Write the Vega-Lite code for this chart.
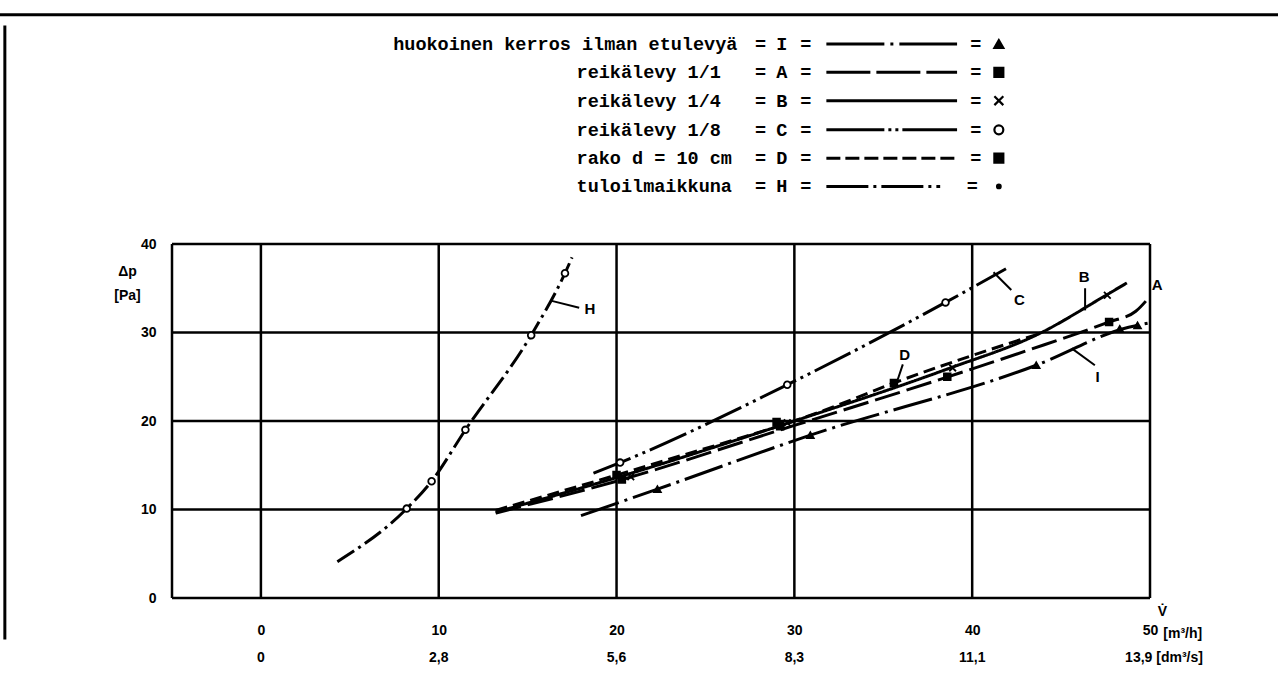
{
  "$schema": "https://vega.github.io/schema/vega-lite/v6.json",
  "width": 978,
  "height": 354,
  "autosize": {"type": "none"},
  "padding": {"left": 172, "top": 244, "right": 128, "bottom": 90},
  "background": "white",
  "config": {"view": {"stroke": null}},
  "datasets": {
    "grid": [
      {"x": -5, "x2": -5, "y": 0, "y2": 40},
      {"x": 0, "x2": 0, "y": 0, "y2": 40},
      {"x": 10, "x2": 10, "y": 0, "y2": 40},
      {"x": 20, "x2": 20, "y": 0, "y2": 40},
      {"x": 30, "x2": 30, "y": 0, "y2": 40},
      {"x": 40, "x2": 40, "y": 0, "y2": 40},
      {"x": 50, "x2": 50, "y": 0, "y2": 40},
      {"x": -5, "x2": 50, "y": 0, "y2": 0},
      {"x": -5, "x2": 50, "y": 10, "y2": 10},
      {"x": -5, "x2": 50, "y": 20, "y2": 20},
      {"x": -5, "x2": 50, "y": 30, "y2": 30},
      {"x": -5, "x2": 50, "y": 40, "y2": 40}
    ],
    "scan": [
      {"x": -14.8, "x2": 57.2, "y": 65.9, "y2": 65.9},
      {"x": -14.4, "x2": -14.4, "y": 64.7, "y2": -4.7}
    ],
    "leaders": [
      {"x": 41.2, "x2": 42.2, "y": 36.8, "y2": 34.8},
      {"x": 46.35, "x2": 46.35, "y": 35.0, "y2": 32.5},
      {"x": 36.1, "x2": 35.8, "y": 26.4, "y2": 24.6},
      {"x": 45.6, "x2": 46.9, "y": 28.2, "y2": 26.3},
      {"x": 16.3, "x2": 17.9, "y": 33.6, "y2": 32.8}
    ],
    "lines": [
      {"g": "H", "x": 4.3, "y": 4.1},
      {"g": "H", "x": 8.2, "y": 10.1},
      {"g": "H", "x": 9.6, "y": 13.2},
      {"g": "H", "x": 11.5, "y": 19.0},
      {"g": "H", "x": 15.2, "y": 29.7},
      {"g": "H", "x": 17.1, "y": 36.7},
      {"g": "H", "x": 17.5, "y": 38.5},
      {"g": "C", "x": 18.7, "y": 14.1},
      {"g": "C", "x": 20.2, "y": 15.3},
      {"g": "C", "x": 29.6, "y": 24.1},
      {"g": "C", "x": 38.5, "y": 33.4},
      {"g": "C", "x": 41.9, "y": 37.2},
      {"g": "B", "x": 13.2, "y": 9.7},
      {"g": "B", "x": 20, "y": 13.6},
      {"g": "B", "x": 30, "y": 20.0},
      {"g": "B", "x": 38.5, "y": 25.8},
      {"g": "B", "x": 43.9, "y": 30.0},
      {"g": "B", "x": 47.6, "y": 34.3},
      {"g": "B", "x": 48.7, "y": 35.6},
      {"g": "A", "x": 13.2, "y": 9.6},
      {"g": "A", "x": 20, "y": 13.2},
      {"g": "A", "x": 30, "y": 19.5},
      {"g": "A", "x": 38.5, "y": 24.9},
      {"g": "A", "x": 43, "y": 27.9},
      {"g": "A", "x": 47.7, "y": 31.2},
      {"g": "A", "x": 49.2, "y": 32.4},
      {"g": "A", "x": 50, "y": 34.1},
      {"g": "D", "x": 13.2, "y": 9.9},
      {"g": "D", "x": 22.5, "y": 15.4},
      {"g": "D", "x": 31.4, "y": 21.0},
      {"g": "D", "x": 36, "y": 24.6},
      {"g": "D", "x": 40, "y": 27.4},
      {"g": "D", "x": 44, "y": 30.0},
      {"g": "I", "x": 18.0, "y": 9.3},
      {"g": "I", "x": 22.3, "y": 12.3},
      {"g": "I", "x": 30.9, "y": 18.4},
      {"g": "I", "x": 43.6, "y": 26.3},
      {"g": "I", "x": 48.8, "y": 30.6},
      {"g": "I", "x": 50, "y": 31.1},
      {"g": "LI", "x": 31.8, "y": 62.6},
      {"g": "LI", "x": 39.15, "y": 62.6},
      {"g": "LA", "x": 31.8, "y": 59.4},
      {"g": "LA", "x": 39.15, "y": 59.4},
      {"g": "LB", "x": 31.8, "y": 56.2},
      {"g": "LB", "x": 39.15, "y": 56.2},
      {"g": "LC", "x": 31.8, "y": 52.9},
      {"g": "LC", "x": 39.15, "y": 52.9},
      {"g": "LD", "x": 31.8, "y": 49.7},
      {"g": "LD", "x": 39.15, "y": 49.7},
      {"g": "LH", "x": 31.8, "y": 46.5},
      {"g": "LH", "x": 38.2, "y": 46.5}
    ],
    "markers": [
      {"m": "tri", "x": 22.3, "y": 12.3},
      {"m": "tri", "x": 30.9, "y": 18.4},
      {"m": "tri", "x": 43.6, "y": 26.3},
      {"m": "tri", "x": 48.3, "y": 30.4},
      {"m": "tri", "x": 49.3, "y": 30.8},
      {"m": "sq", "x": 20.3, "y": 13.4},
      {"m": "sq", "x": 29.2, "y": 19.4},
      {"m": "sq", "x": 38.6, "y": 25.0},
      {"m": "sq", "x": 47.7, "y": 31.2},
      {"m": "x", "x": 20.8, "y": 13.7},
      {"m": "x", "x": 29.6, "y": 19.8},
      {"m": "x", "x": 38.9, "y": 26.0},
      {"m": "x", "x": 47.6, "y": 34.2},
      {"m": "circ", "x": 20.2, "y": 15.3},
      {"m": "circ", "x": 29.6, "y": 24.1},
      {"m": "circ", "x": 38.5, "y": 33.4},
      {"m": "sq", "x": 20.0, "y": 13.9},
      {"m": "sq", "x": 29.0, "y": 19.9},
      {"m": "sq", "x": 35.6, "y": 24.3},
      {"m": "circ", "x": 8.2, "y": 10.1},
      {"m": "circ", "x": 9.6, "y": 13.2},
      {"m": "circ", "x": 11.5, "y": 19.0},
      {"m": "circ", "x": 15.2, "y": 29.7},
      {"m": "circ", "x": 17.1, "y": 36.7}
    ],
    "legsym": [
      {"m": "tri", "x": 41.5, "y": 62.6},
      {"m": "sq", "x": 41.5, "y": 59.4},
      {"m": "x", "x": 41.5, "y": 56.2},
      {"m": "circ", "x": 41.5, "y": 52.9},
      {"m": "sq", "x": 41.5, "y": 49.7},
      {"m": "dot", "x": 41.5, "y": 46.5}
    ],
    "legnames": [
      {"t": "huokoinen kerros ilman etulevyä", "x": 7.44, "y": 62.6},
      {"t": "reikälevy 1/1", "x": 17.75, "y": 59.4},
      {"t": "reikälevy 1/4", "x": 17.75, "y": 56.2},
      {"t": "reikälevy 1/8", "x": 17.75, "y": 52.9},
      {"t": "rako d = 10 cm", "x": 17.75, "y": 49.7},
      {"t": "tuloilmaikkuna", "x": 17.75, "y": 46.5}
    ],
    "legbits": [
      {"t": "=", "x": 28.1, "y": 62.6}, {"t": "I", "x": 29.3, "y": 62.6}, {"t": "=", "x": 30.65, "y": 62.6}, {"t": "=", "x": 40.2, "y": 62.6},
      {"t": "=", "x": 28.1, "y": 59.4}, {"t": "A", "x": 29.3, "y": 59.4}, {"t": "=", "x": 30.65, "y": 59.4}, {"t": "=", "x": 40.2, "y": 59.4},
      {"t": "=", "x": 28.1, "y": 56.2}, {"t": "B", "x": 29.3, "y": 56.2}, {"t": "=", "x": 30.65, "y": 56.2}, {"t": "=", "x": 40.2, "y": 56.2},
      {"t": "=", "x": 28.1, "y": 52.9}, {"t": "C", "x": 29.3, "y": 52.9}, {"t": "=", "x": 30.65, "y": 52.9}, {"t": "=", "x": 40.2, "y": 52.9},
      {"t": "=", "x": 28.1, "y": 49.7}, {"t": "D", "x": 29.3, "y": 49.7}, {"t": "=", "x": 30.65, "y": 49.7}, {"t": "=", "x": 40.2, "y": 49.7},
      {"t": "=", "x": 28.1, "y": 46.5}, {"t": "H", "x": 29.3, "y": 46.5}, {"t": "=", "x": 30.65, "y": 46.5}, {"t": "=", "x": 40.0, "y": 46.5}
    ],
    "curvelabels": [
      {"t": "C", "x": 42.65, "y": 33.7},
      {"t": "B", "x": 46.3, "y": 36.3},
      {"t": "A", "x": 50.4, "y": 35.4},
      {"t": "D", "x": 36.2, "y": 27.5},
      {"t": "I", "x": 47.05, "y": 25.0},
      {"t": "H", "x": 18.5, "y": 32.7}
    ],
    "axistext": [
      {"t": "0", "x": 0, "y": -6.8},
      {"t": "2,8", "x": 10, "y": -6.8},
      {"t": "5,6", "x": 20, "y": -6.8},
      {"t": "8,3", "x": 30, "y": -6.8},
      {"t": "11,1", "x": 40, "y": -6.8},
      {"t": "V̇", "x": 50.7, "y": -1.6},
      {"t": "Δp", "x": -7.5, "y": 36.8},
      {"t": "[Pa]", "x": -7.5, "y": 34.1}
    ],
    "axistextleft": [
      {"t": "13,9 [dm³/s]", "x": 48.6, "y": -6.8},
      {"t": "[m³/h]", "x": 50.75, "y": -4.1}
    ]
  },
  "encoding": {
    "x": {"field": "x", "type": "quantitative", "scale": {"domain": [-5, 50], "nice": false, "zero": false},
      "axis": {"values": [0, 10, 20, 30, 40, 50], "domain": false, "ticks": false, "tickSize": 0, "grid": false, "title": null, "labelPadding": 25, "labelFont": "Liberation Sans", "labelFontSize": 14, "labelFontWeight": "bold", "labelColor": "black", "labelFlush": false}},
    "y": {"field": "y", "type": "quantitative", "scale": {"domain": [0, 40], "nice": false, "zero": false},
      "axis": {"values": [0, 10, 20, 30, 40], "domain": false, "ticks": false, "tickSize": 0, "grid": false, "title": null, "labelPadding": 16, "labelFont": "Liberation Sans", "labelFontSize": 14, "labelFontWeight": "bold", "labelColor": "black", "labelFlush": false}}
  },
  "layer": [
    {
      "data": {"name": "grid"},
      "mark": {"type": "rule", "color": "black", "strokeWidth": 2.5},
      "encoding": {"x2": {"field": "x2"}, "y2": {"field": "y2"}}
    },
    {
      "data": {"name": "scan"},
      "mark": {"type": "rule", "color": "black", "strokeWidth": 3},
      "encoding": {"x2": {"field": "x2"}, "y2": {"field": "y2"}}
    },
    {
      "data": {"name": "leaders"},
      "mark": {"type": "rule", "color": "black", "strokeWidth": 2},
      "encoding": {"x2": {"field": "x2"}, "y2": {"field": "y2"}}
    },
    {
      "data": {"name": "lines"},
      "mark": {"type": "line", "color": "black", "strokeWidth": 3, "interpolate": "monotone", "clip": false},
      "encoding": {
        "detail": {"field": "g", "type": "nominal"},
        "strokeDash": {"field": "g", "type": "nominal", "legend": null,
          "scale": {"domain": ["I", "A", "B", "C", "D", "H", "LI", "LA", "LB", "LC", "LD", "LH"],
            "range": [[40, 6, 3, 6], [26, 7], [1, 0], [40, 5, 3, 5, 3, 5], [12, 6], [20, 5, 3, 5], [58, 6, 3, 6], [44, 6], [1, 0], [58, 4, 3, 4, 3, 4], [14, 5], [42, 5, 3, 5]]}}
      }
    },
    {
      "data": {"name": "markers"},
      "mark": {"type": "point", "stroke": "black", "strokeWidth": 1.8, "size": 45, "opacity": 1, "fillOpacity": 1},
      "encoding": {
        "shape": {"field": "m", "type": "nominal", "legend": null,
          "scale": {"domain": ["tri", "sq", "x", "circ", "dot"], "range": ["triangle-up", "square", "M-1,-1L1,1M-1,1L1,-1", "circle", "M-0.4,0A0.4,0.4 0 1,0 0.4,0A0.4,0.4 0 1,0 -0.4,0Z"]}},
        "fill": {"field": "m", "type": "nominal", "legend": null,
          "scale": {"domain": ["tri", "sq", "x", "circ", "dot"], "range": ["black", "black", "black", "white", "black"]}}
      }
    },
    {
      "data": {"name": "legsym"},
      "mark": {"type": "point", "stroke": "black", "strokeWidth": 2.2, "size": 80, "opacity": 1, "fillOpacity": 1},
      "encoding": {
        "shape": {"field": "m", "type": "nominal", "legend": null,
          "scale": {"domain": ["tri", "sq", "x", "circ", "dot"], "range": ["triangle-up", "square", "M-1,-1L1,1M-1,1L1,-1", "circle", "M-0.4,0A0.4,0.4 0 1,0 0.4,0A0.4,0.4 0 1,0 -0.4,0Z"]}},
        "fill": {"field": "m", "type": "nominal", "legend": null,
          "scale": {"domain": ["tri", "sq", "x", "circ", "dot"], "range": ["black", "black", "black", "white", "black"]}}
      }
    },
    {
      "data": {"name": "legnames"},
      "mark": {"type": "text", "align": "left", "baseline": "middle", "font": "Liberation Mono", "fontSize": 18.5, "fontWeight": "bold", "color": "black"},
      "encoding": {"text": {"field": "t"}}
    },
    {
      "data": {"name": "legbits"},
      "mark": {"type": "text", "align": "center", "baseline": "middle", "font": "Liberation Mono", "fontSize": 18.5, "fontWeight": "bold", "color": "black"},
      "encoding": {"text": {"field": "t"}}
    },
    {
      "data": {"name": "curvelabels"},
      "mark": {"type": "text", "align": "center", "baseline": "middle", "font": "Liberation Sans", "fontSize": 15, "fontWeight": "bold", "color": "black"},
      "encoding": {"text": {"field": "t"}}
    },
    {
      "data": {"name": "axistext"},
      "mark": {"type": "text", "align": "center", "baseline": "middle", "font": "Liberation Sans", "fontSize": 14, "fontWeight": "bold", "color": "black"},
      "encoding": {"text": {"field": "t"}}
    },
    {
      "data": {"name": "axistextleft"},
      "mark": {"type": "text", "align": "left", "baseline": "middle", "font": "Liberation Sans", "fontSize": 14, "fontWeight": "bold", "color": "black"},
      "encoding": {"text": {"field": "t"}}
    }
  ]
}
